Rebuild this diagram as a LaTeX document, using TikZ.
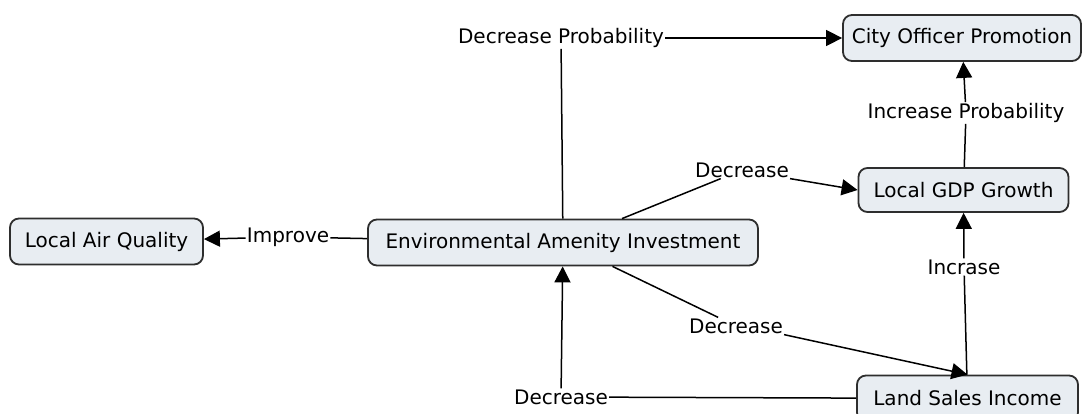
\documentclass[tikz,border=0pt]{standalone}
\usepackage{fontspec}
\setmainfont{DejaVu Sans}
\usetikzlibrary{arrows.meta}
\usetikzlibrary{positioning}
\tikzset{concept/.style = {draw = mdraw, fill = mfill, rounded corners = 9, line width = 1.8,
                           minimum height = 46, inner sep = 0, font = \fontsize{20}{24}\selectfont},
         link/.style = {inner sep = 1, font = \fontsize{20}{24}\selectfont},
         arr/.style = {-{Triangle[length = 16pt, width = 16pt]}, line width = 1.5},
         ln/.style = {line width = 1.5}}
\definecolor{mfill}{rgb}{0.91, 0.93, 0.95}
\definecolor{mdraw}{rgb}{0.18, 0.18, 0.18}

\begin{document}
\begin{tikzpicture}[x = 1pt, y = -1pt]
      \useasboundingbox (0, 0) rectangle (1082, 414);

      \node [concept, minimum width = 193] (air) at (106.5, 241.5) {Local Air Quality};
      \node [concept, minimum width = 390] (env) at (563, 242.5) {Environmental Amenity Investment};
      \node [concept, minimum width = 238] (city) at (962, 38) {City Officer Promotion};
      \node [concept, minimum width = 210, minimum height = 44] (gdp) at (963.5, 190) {Local GDP Growth};
      \node [concept, minimum width = 221] (land) at (967.5, 398.5) {Land Sales Income};

      \node [link] (improve) at (288, 237) {Improve};
      \node [link] (decprob) at (561, 38) {Decrease Probability};
      \node [link] (decgdp) at (742, 170) {Decrease};
      \node [link] (incprob) at (966, 113) {Increase Probability};
      \node [link] (incrase) at (964, 267) {Incrase};
      \node [link] (decland) at (736, 326) {Decrease};
      \node [link] (decenv) at (561, 397) {Decrease};

      \draw [ln] (env) -- (improve);
      \draw [arr] (improve) -- (air);
      \draw [ln] (env) -- (decprob);
      \draw [arr] (decprob) -- (city);
      \draw [ln] (env) -- (decgdp);
      \draw [arr] (decgdp.south east) -- (gdp.west);
      \draw [ln] (gdp) -- (incprob);
      \draw [arr] (incprob) -- (city);
      \draw [ln] (land) -- (incrase);
      \draw [arr] (incrase) -- (gdp);
      \draw [ln] (env) -- (decland);
      \draw [arr] (decland.south east) -- (land.north);
      \draw [ln] (land) -- (decenv);
      \draw [arr] (decenv) -- (env);
    \end{tikzpicture}
\end{document}
